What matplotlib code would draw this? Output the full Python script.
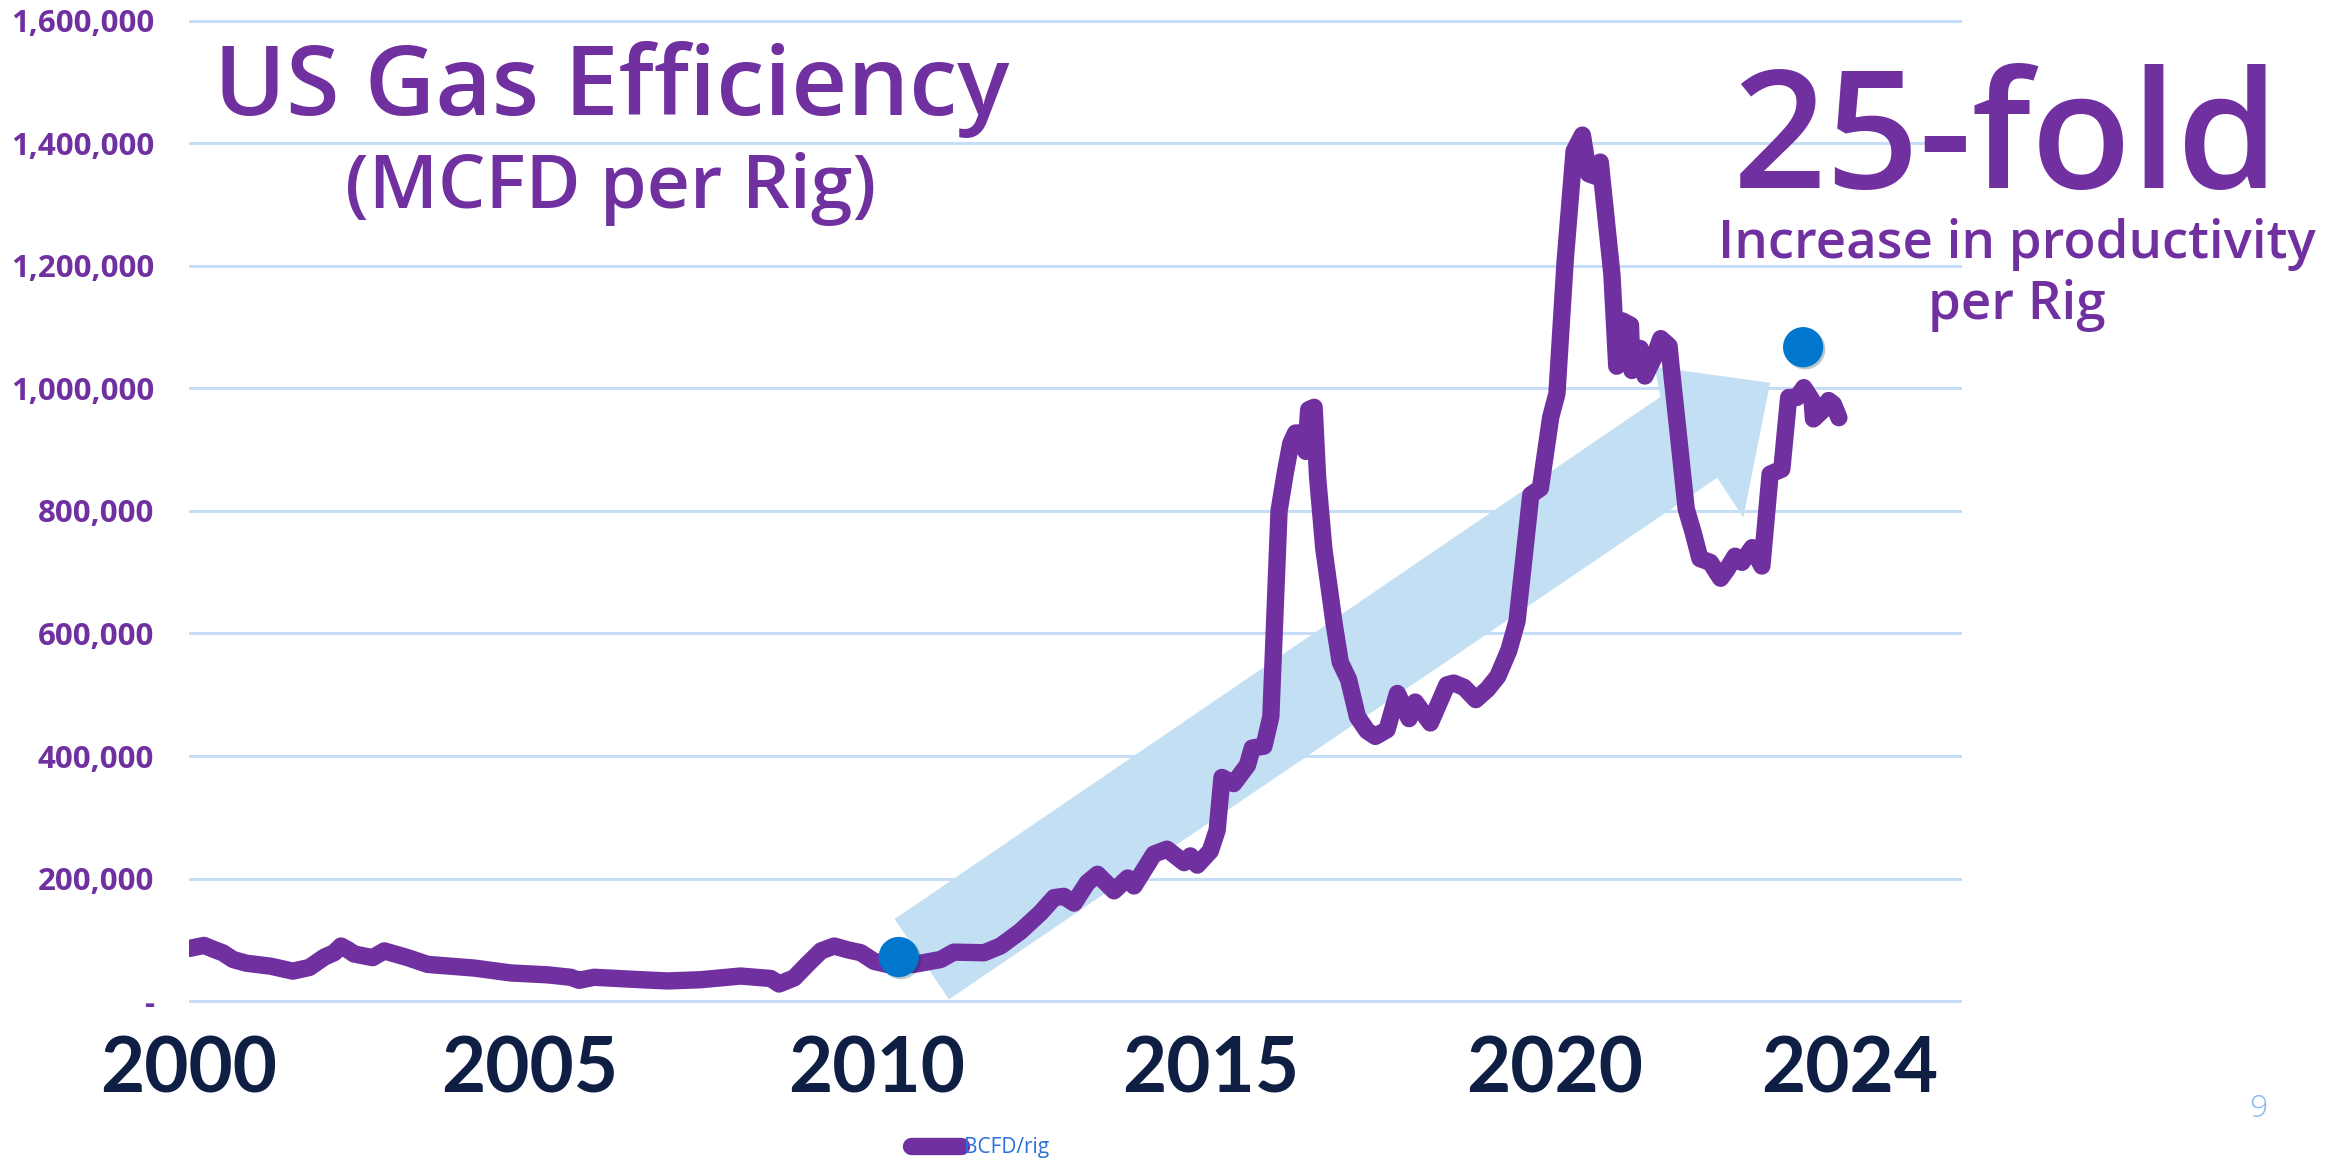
import matplotlib
matplotlib.use("Agg")
import matplotlib.pyplot as plt
import matplotlib.patheffects as pe
from matplotlib.patches import Polygon
from matplotlib.ticker import FuncFormatter

# monthly-ish series (decimal year, MCFD per rig)
years = [2000.00, 2000.22, 2000.37, 2000.49, 2000.64, 2000.83, 2001.19, 2001.51, 2001.75, 2001.97,
         2002.11, 2002.21, 2002.31, 2002.40, 2002.67, 2002.84, 2003.18, 2003.47, 2004.15, 2004.68,
         2005.21, 2005.55, 2005.67, 2005.89, 2006.57, 2006.96, 2007.44, 2008.02, 2008.46, 2008.58,
         2008.80, 2008.99, 2009.19, 2009.38, 2009.57, 2009.77, 2009.96, 2010.15, 2010.54, 2010.93,
         2011.12, 2011.56, 2011.80, 2012.09, 2012.38, 2012.58, 2012.72, 2012.87, 2013.06, 2013.21,
         2013.45, 2013.65, 2013.74, 2014.03, 2014.22, 2014.47, 2014.56, 2014.66, 2014.85, 2014.95,
         2015.02, 2015.19, 2015.39, 2015.46, 2015.63, 2015.73, 2015.85, 2015.94, 2016.02, 2016.09,
         2016.16, 2016.24, 2016.28, 2016.36, 2016.41, 2016.50, 2016.65, 2016.74, 2016.86, 2016.99,
         2017.13, 2017.25, 2017.42, 2017.57, 2017.74, 2017.83, 2018.05, 2018.29, 2018.39, 2018.54,
         2018.71, 2018.88, 2019.03, 2019.19, 2019.31, 2019.41, 2019.51, 2019.65, 2019.80, 2019.89,
         2020.01, 2020.14, 2020.26, 2020.35, 2020.45, 2020.52, 2020.69, 2020.76, 2020.84, 2020.96,
         2020.98, 2021.10, 2021.17, 2021.30, 2021.40, 2021.52, 2021.55, 2021.66, 2021.77, 2021.87,
         2021.97, 2022.12, 2022.27, 2022.36, 2022.48, 2022.58, 2022.73, 2022.87, 2022.99, 2023.16,
         2023.26, 2023.38, 2023.48, 2023.60, 2023.62, 2023.77, 2023.84, 2023.91, 2023.99]
bcfd_per_rig = [86000, 91000, 84000, 79000, 68000, 62000, 57000, 49000, 55000, 72000,
                79000, 90000, 84000, 77000, 71000, 82000, 71000, 60000, 54000, 46000,
                43000, 39000, 34000, 39000, 35000, 33000, 35000, 41000, 37000, 28000,
                38000, 60000, 82000, 90000, 84000, 79000, 65000, 60000, 60000, 68000,
                80000, 79000, 90000, 114000, 144000, 169000, 171000, 160000, 193000, 207000,
                180000, 201000, 188000, 240000, 248000, 226000, 237000, 222000, 245000, 279000,
                365000, 355000, 385000, 413000, 416000, 464000, 800000, 862000, 910000, 927000,
                927000, 897000, 965000, 969000, 855000, 739000, 616000, 553000, 525000, 464000,
                441000, 432000, 443000, 502000, 461000, 488000, 454000, 516000, 519000, 512000,
                492000, 509000, 530000, 572000, 620000, 722000, 826000, 837000, 953000, 991000,
                1208000, 1387000, 1413000, 1350000, 1346000, 1369000, 1185000, 1036000, 1110000, 1103000,
                1029000, 1065000, 1020000, 1050000, 1081000, 1069000, 1035000, 920000, 803000, 765000,
                722000, 716000, 690000, 704000, 726000, 716000, 740000, 710000, 860000, 868000,
                985000, 985000, 1001000, 980000, 950000, 966000, 980000, 974000, 952000]

marker_years = [2010.32, 2023.47]
marker_values = [72000, 1067000]

x_tick_pos = [2000, 2004.95, 2010, 2014.85, 2019.85, 2024.15]
x_labels = ["2000", "2005", "2010", "2015", "2020", "2024"]
y_ticks = [0, 200000, 400000, 600000, 800000, 1000000, 1200000, 1400000, 1600000]

# the big light-blue trend arrow (year, value)
arrow_pts = [(2010.26, 134000), (2021.395, 986000), (2021.31, 1035000), (2022.99, 1009000),
             (2022.60, 789000), (2022.22, 854000), (2011.05, 3000)]

PURPLE = "#7030a0"
NAVY = "#0f1f44"
DOT = "#0077cc"
GRID = "#c6ddf7"
ARROW = "#c3dff3"

W, H = 2343, 1160
fig = plt.figure(figsize=(W / 100, H / 100), dpi=100)
top_px, bot_px = 14.4, 1007.3
ax = fig.add_axes([189 / W, 1 - bot_px / H, (1962 - 189) / W, (bot_px - top_px) / H])
ax.set_xlim(2000.0, 2025.78)
ax.set_ylim(-10000, 1610000)

ax.add_patch(Polygon(arrow_pts, closed=True, facecolor=ARROW, edgecolor="none", zorder=1))
ax.plot(years, bcfd_per_rig, color=PURPLE, lw=12.5, solid_joinstyle="round",
        solid_capstyle="round", zorder=3, label="BCFD/rig")
ax.plot(marker_years, marker_values, "o", color=DOT, ms=29, mec="none", zorder=4,
        path_effects=[pe.SimplePatchShadow(offset=(1.5, -1.5), alpha=0.25), pe.Normal()])

ax.set_yticks(y_ticks)
ax.yaxis.set_major_formatter(FuncFormatter(lambda v, p: "-" if v == 0 else f"{v:,.0f}"))
ax.set_xticks(x_tick_pos, x_labels)
ax.yaxis.grid(True, color=GRID, lw=2.2)
ax.set_axisbelow(True)
for s in ax.spines.values():
    s.set_visible(False)
ax.tick_params(axis="both", length=0)
ax.tick_params(axis="y", pad=25)
ax.tick_params(axis="x", pad=20)
for lbl in ax.get_yticklabels():
    lbl.set_fontfamily(["Open Sans", "DejaVu Sans"])
    lbl.set_fontweight("bold")
    lbl.set_fontsize(22.5)
    lbl.set_color(PURPLE)
for lbl in ax.get_xticklabels():
    lbl.set_fontfamily(["Lato", "DejaVu Sans"])
    lbl.set_fontweight("bold")
    lbl.set_fontsize(55)
    lbl.set_color(NAVY)


def ftext(x, y, s, **kw):
    fig.text(x / W, 1 - y / H, s, ha="center", va="baseline",
             family=["Open Sans", "DejaVu Sans"], color=PURPLE, **kw)


ftext(612, 115, "US Gas Efficiency", fontsize=70, fontweight="semibold")
ftext(611, 208, "(MCFD per Rig)", fontsize=54, fontweight="semibold")
ftext(2006, 188, "25-fold", fontsize=118, fontweight="semibold")
ftext(2017, 258, "Increase in productivity", fontsize=38, fontweight="semibold")
ftext(2017, 319, "per Rig", fontsize=38, fontweight="semibold")

fig.text(2258 / W, 1 - 1109 / H, "9", ha="center", va="center", fontsize=23,
         family=["Open Sans", "DejaVu Sans"], fontweight="light", color="#8ab8e8")

leg = fig.legend(loc="center", bbox_to_anchor=(980 / W, 1 - 1148 / H), frameon=False,
                 handlelength=2.4, handletextpad=0.15, prop={"family": ["Open Sans", "DejaVu Sans"], "size": 15})
for t in leg.get_texts():
    t.set_color("#2a6fdb")

fig.savefig("out.png", dpi=100)
